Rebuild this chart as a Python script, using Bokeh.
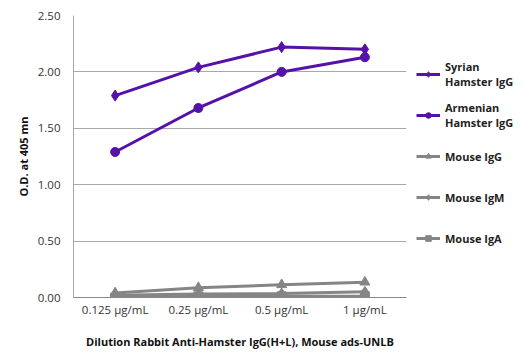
from bokeh.plotting import figure
from bokeh.models import Range1d, Legend, LegendItem, SingleIntervalTicker, NumeralTickFormatter
from bokeh.embed import file_html
from bokeh.resources import INLINE

categories = ["0.125 µg/mL", "0.25 µg/mL", "0.5 µg/mL", "1 µg/mL"]
syrian = [1.79, 2.04, 2.22, 2.20]
armenian = [1.29, 1.68, 2.00, 2.13]
mouse_igg = [0.04, 0.087, 0.113, 0.136]
mouse_igm = [0.02, 0.03, 0.035, 0.05]
mouse_iga = [0.0, 0.01, 0.01, 0.01]

purple = "#5512a8"
gray = "#858585"
FONT = "Open Sans"

p = figure(x_range=categories, y_range=Range1d(0, 2.5),
           frame_width=333, frame_height=282,
           min_border_left=73, min_border_right=117, min_border_top=15, min_border_bottom=59,
           output_backend="svg", toolbar_location=None)

series = [
    ("Syrian\nHamster IgG", syrian, purple, "diamond", 11),
    ("Armenian\nHamster IgG", armenian, purple, "circle", 9),
    ("Mouse IgG", mouse_igg, gray, "triangle", 10),
    ("Mouse IgM", mouse_igm, gray, "diamond", 11),
    ("Mouse IgA", mouse_iga, gray, "square", 9),
]
items = []
for label, vals, color, marker, size in series:
    r1 = p.line(categories, vals, line_color=color, line_width=3)
    r2 = p.scatter(categories, vals, marker=marker, size=size, fill_color=color, line_color=color)
    items.append(LegendItem(label=label, renderers=[r1, r2]))

legend = Legend(items=items, location="center_left", border_line_color=None,
                label_text_font=FONT, label_text_font_style="bold", label_text_font_size="11px",
                label_text_color="#222222", glyph_width=24, glyph_height=14,
                label_standoff=5, spacing=11, padding=0, margin=10,
                label_height=30)
p.add_layout(legend, "right")

p.outline_line_color = None
p.xgrid.grid_line_color = None
p.ygrid.grid_line_color = "#a8a8a8"
p.ygrid.grid_line_width = 1
p.yaxis.ticker = SingleIntervalTicker(interval=0.5)
p.yaxis.formatter = NumeralTickFormatter(format="0.00")
p.yaxis.major_tick_line_color = None
p.yaxis.minor_tick_line_color = None
p.yaxis.major_tick_out = 0
p.yaxis.axis_line_color = "#a8a8a8"
p.xaxis.axis_line_color = "#888888"
p.xaxis.major_tick_line_color = None
p.xaxis.major_tick_out = 0
for ax in (p.xaxis, p.yaxis):
    ax.major_label_text_font = FONT
    ax.major_label_text_font_size = "11.5px"
    ax.major_label_text_color = "#333333"
    ax.axis_label_text_font = FONT
    ax.axis_label_text_font_style = "bold"
    ax.axis_label_text_color = "#111111"
p.xaxis.axis_label = "Dilution Rabbit Anti-Hamster IgG(H+L), Mouse ads-UNLB"
p.xaxis.axis_label_text_font_size = "11px"
p.xaxis.axis_label_standoff = 14
p.yaxis.axis_label = "O.D. at 405 mn"
p.yaxis.axis_label_text_font_size = "11px"
p.yaxis.axis_label_standoff = 4
p.xaxis.major_label_standoff = 4
p.yaxis.major_label_standoff = 9
p.background_fill_color = "white"

open("out.html", "w").write(file_html(p, INLINE))
